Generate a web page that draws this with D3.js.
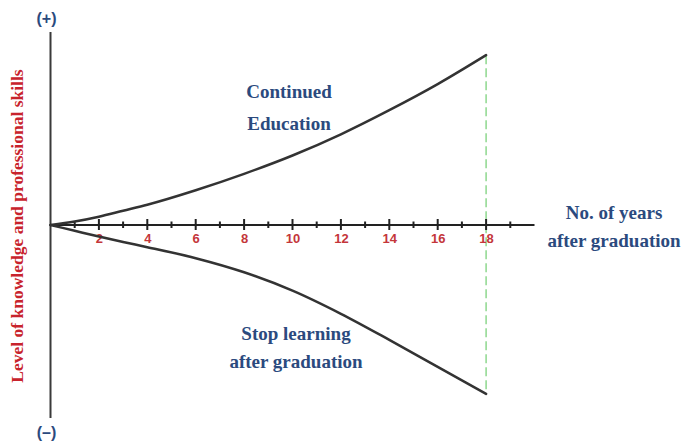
<!DOCTYPE html>
<html><head><meta charset="utf-8">
<script src="https://cdn.jsdelivr.net/npm/d3@7"></script>
</head><body style="margin:0;background:#fff">
<svg id="chart" width="690" height="445" style="display:block"></svg>
<script>
const years = [0, 1, 2, 3, 4, 6, 8, 10, 12, 14, 16, 18];
const continued = [0, 0.18, 0.43, 0.74, 1.05, 1.8, 2.65, 3.6, 4.7, 5.95, 7.3, 8.8];
const stopped = [0, -0.3, -0.6, -0.88, -1.15, -1.72, -2.45, -3.4, -4.6, -5.95, -7.35, -8.75];
const majorTicks = [2, 4, 6, 8, 10, 12, 14, 16, 18];
const minorTicks = [1, 3, 5, 7, 9, 11, 13, 15, 17, 19];
const yLabel = "Level of knowledge and professional skills";
const xLabel = ["No. of years", "after graduation"];
const upperLabel = ["Continued", "Education"];
const lowerLabel = ["Stop learning", "after graduation"];
const markerYear = 18;

const SERIF = "Liberation Serif";
const SANS = "Liberation Sans";
const svg = d3.select("#chart");
const x = d3.scaleLinear().domain([0, 20]).range([50.5, 534.5]);
const y = d3.scaleLinear().domain([-10, 10]).range([418, 32]);
const blue = "#2b4a7e", red = "#c8232c", tickRed = "#c4363a";

function txt(sel, family, size) {
  return sel.attr("font-family", family).attr("font-weight", "bold").attr("font-size", size)
    .style("font-family", `"${family}"`).style("font-weight", "bold").style("font-size", size + "px");
}

// vertical axis
svg.append("line").attr("x1", x(0)).attr("x2", x(0)).attr("y1", y(10)).attr("y2", y(-10))
  .attr("stroke", "#3a3a3a").attr("stroke-width", 2);
txt(svg.append("text"), SANS, 16).attr("x", x(0) - 4).attr("y", 24).attr("text-anchor", "middle")
  .attr("fill", blue).text("(+)");
txt(svg.append("text"), SANS, 16).attr("x", x(0) - 4).attr("y", 438).attr("text-anchor", "middle")
  .attr("fill", blue).text("(\u2013)");

// green dashed marker
svg.append("line").attr("x1", x(markerYear)).attr("x2", x(markerYear))
  .attr("y1", y(continued[continued.length - 1])).attr("y2", y(stopped[stopped.length - 1]))
  .attr("stroke", "#8ed88e").attr("stroke-width", 1.5).attr("stroke-dasharray", "9,4");

// horizontal axis
const axis = d3.axisBottom(x).tickValues(majorTicks).tickSize(0).tickPadding(9);
const g = svg.append("g").attr("transform", `translate(0,${y(0)})`).call(axis);
g.select(".domain").remove();
g.attr("font-family", null).attr("font-size", null);
txt(g.selectAll("text"), SANS, 13).attr("fill", tickRed);
svg.append("line").attr("x1", x(0)).attr("x2", x(20)).attr("y1", y(0)).attr("y2", y(0))
  .attr("stroke", "#222").attr("stroke-width", 2);
svg.selectAll("line.major").data(majorTicks).join("line").attr("class", "major")
  .attr("x1", d => x(d)).attr("x2", d => x(d)).attr("y1", y(0) - 6).attr("y2", y(0) + 5)
  .attr("stroke", "#222").attr("stroke-width", 2);
svg.selectAll("line.minor").data(minorTicks).join("line").attr("class", "minor")
  .attr("x1", d => x(d)).attr("x2", d => x(d)).attr("y1", y(0) - 3.5).attr("y2", y(0) + 3)
  .attr("stroke", "#222").attr("stroke-width", 2);

// curves
const line = d3.line().x((d, i) => x(years[i])).y(d => y(d)).curve(d3.curveMonotoneX);
[continued, stopped].forEach(s => {
  svg.append("path").attr("d", line(s)).attr("fill", "none")
    .attr("stroke", "#333").attr("stroke-width", 2.5).attr("stroke-linecap", "round");
});

// y label
txt(svg.append("text"), SERIF, 17.5).attr("transform", `translate(23,${(40 + 412) / 2}) rotate(-90)`)
  .attr("text-anchor", "middle").attr("fill", red).text(yLabel);

function block(lines, cx, baselines) {
  lines.forEach((t, i) => {
    txt(svg.append("text"), SERIF, 19).attr("x", cx).attr("y", baselines[i]).attr("text-anchor", "middle")
      .attr("fill", blue).text(t);
  });
}
block(upperLabel, 289, [98, 130]);
block(lowerLabel, 296, [340, 368]);
block(xLabel, 614, [219, 247]);
</script>
</body></html>
